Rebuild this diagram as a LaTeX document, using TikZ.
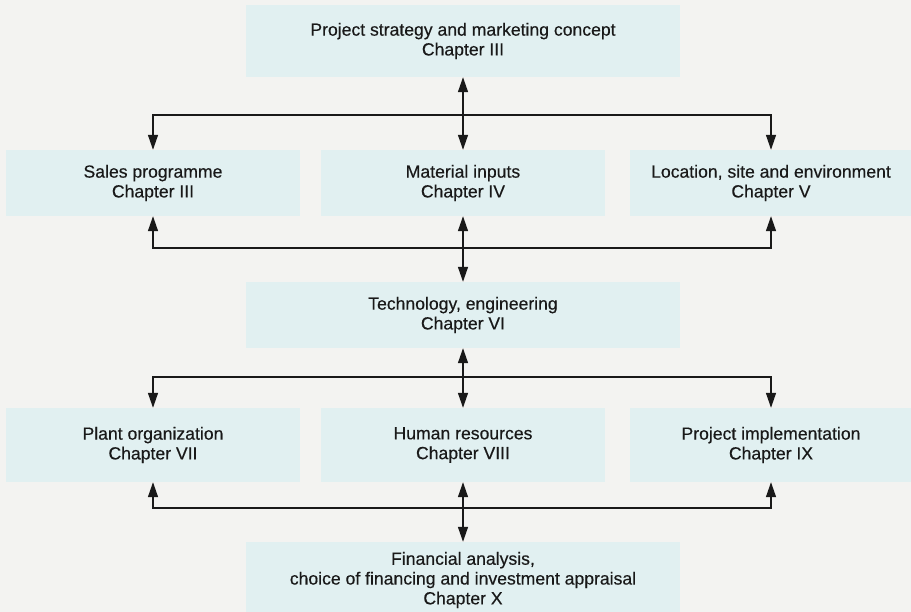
\documentclass[tikz,border=0pt]{standalone}
\usepackage{fontspec}
\setmainfont[FakeBold=0.4]{Liberation Sans}
\usetikzlibrary{arrows.meta}
\definecolor{page}{RGB}{243,243,241}
\definecolor{hl}{RGB}{225,240,241}
\definecolor{ink}{RGB}{25,25,25}
\begin{document}
\begin{tikzpicture}[x=1pt,y=-1pt,
  box/.style={fill=hl, draw=none, align=center, inner sep=0pt, text=ink,
    font=\fontsize{17.6}{19.8}\selectfont},
  wide/.style={box, minimum width=434pt},
  side/.style={box, minimum width=294pt},
  mid/.style={box, minimum width=284pt},
  link/.style={draw=ink, line width=1.4pt, line join=miter,
    -{Triangle[length=15pt,width=10pt]}},
  dlink/.style={draw=ink, line width=1.4pt,
    {Triangle[length=15pt,width=10pt]}-{Triangle[length=15pt,width=10pt]}}]
\fill[page] (0,0) rectangle (911,612);
\useasboundingbox (0,0) rectangle (911,612);

% row 1
\node[wide, minimum height=72pt] (top) at (463,41)
  {Project strategy and marketing concept\\Chapter III};
% row 2
\node[side, minimum height=66pt] (sales) at (153,183) {Sales programme\\Chapter III};
\node[mid,  minimum height=66pt] (mat)   at (463,183) {Material inputs\\Chapter IV};
\node[box, minimum width=282pt, minimum height=66pt] (loc) at (771,183)
  {Location, site and environment\\Chapter V};
% row 3
\node[wide, minimum height=66pt] (tech) at (463,315) {Technology, engineering\\Chapter VI};
% row 4
\node[side, minimum height=74pt] (plant) at (153,445) {Plant organization\\Chapter VII};
\node[mid,  minimum height=74pt] (hum)   at (463,445) {Human resources\\Chapter VIII};
\node[box, minimum width=282pt, minimum height=74pt] (impl) at (771,445)
  {Project implementation\\Chapter IX};
% row 5
\node[wide, minimum height=76pt] (fin) at (463,580)
  {Financial analysis,\\choice of financing and investment appraisal\\Chapter X};

% junctions
\coordinate (j1) at (463,115);
\coordinate (j2) at (463,248);
\coordinate (j3) at (463,377);
\coordinate (j4) at (463,508);

% connectors
\draw[dlink] (top.south) -- (mat.north);
\draw[link] (j1) -| (sales.north);
\draw[link] (j1) -| (loc.north);

\draw[dlink] (mat.south) -- (tech.north);
\draw[link] (j2) -| (sales.south);
\draw[link] (j2) -| (loc.south);

\draw[dlink] (tech.south) -- (hum.north);
\draw[link] (j3) -| (plant.north);
\draw[link] (j3) -| (impl.north);

\draw[dlink] (hum.south) -- (fin.north);
\draw[link] (j4) -| (plant.south);
\draw[link] (j4) -| (impl.south);
\end{tikzpicture}
\end{document}
